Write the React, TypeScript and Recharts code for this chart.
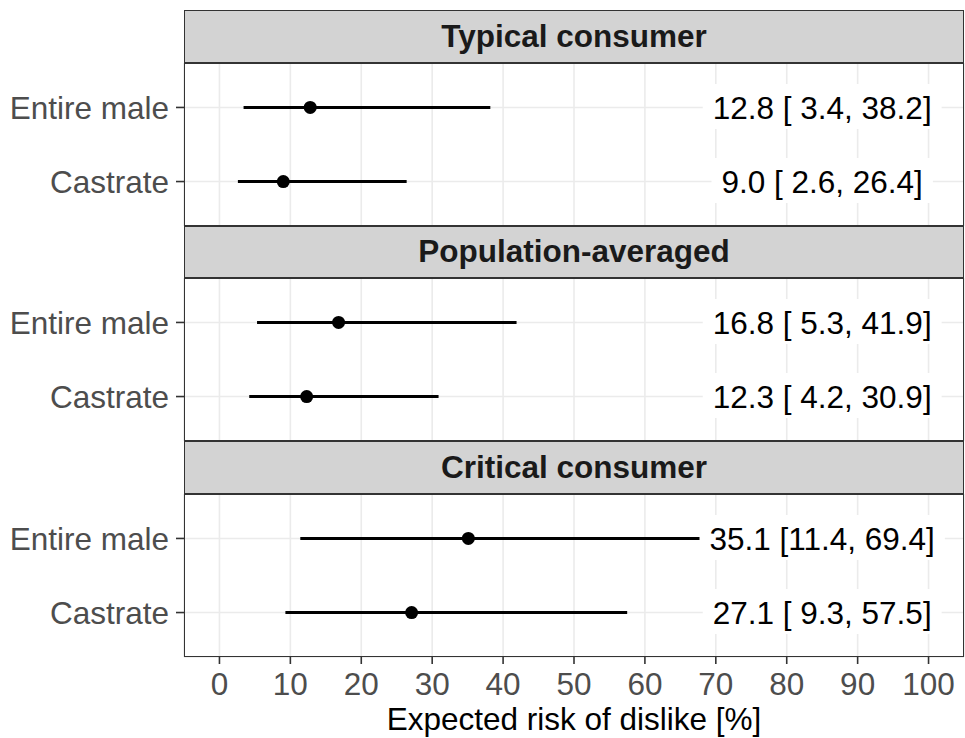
import React from 'react';
import { ScatterChart, Scatter, XAxis, YAxis, CartesianGrid, ErrorBar } from 'recharts';

// ---------- data ----------
const facetTitles = ['Typical consumer', 'Population-averaged', 'Critical consumer'];
const groupNames = ['Castrate', 'Entire male']; // y positions 1, 2

const estEntireMale = [12.8, 16.8, 35.1];
const loEntireMale = [3.4, 5.3, 11.4];
const hiEntireMale = [38.2, 41.9, 69.4];
const labelEntireMale = ['12.8 [ 3.4, 38.2]', '16.8 [ 5.3, 41.9]', '35.1 [11.4, 69.4]'];

const estCastrate = [9.0, 12.3, 27.1];
const loCastrate = [2.6, 4.2, 9.3];
const hiCastrate = [26.4, 30.9, 57.5];
const labelCastrate = ['9.0 [ 2.6, 26.4]', '12.3 [ 4.2, 30.9]', '27.1 [ 9.3, 57.5]'];

const xTicks = [0, 10, 20, 30, 40, 50, 60, 70, 80, 90, 100];
const yTicks = [1, 2];
const xDomain = [-5, 105];
const yDomain = [0.4, 2.6];
const LABEL_X = 85;
const xTitle = 'Expected risk of dislike [%]';

// ---------- layout ----------
const FONT = '"Liberation Sans", Arial, Helvetica, sans-serif';
const W = 965;
const H = 738;
const PLOT_LEFT = 184;
const PLOT_RIGHT_MARGIN = 1;
const PLOT_W = W - PLOT_LEFT - PLOT_RIGHT_MARGIN;
const FACET_TOP = 10;
const FACET_STEP = 215.5;
const STRIP_H = 52.5;
const PANEL_H = 163;
const AXIS_H = 82;
const BORDER = '#333333';
const TEXT_SIZE = 31.5;

let ctx: CanvasRenderingContext2D | null = null;
function measureText(text: string, font: string): number {
  if (!ctx) {
    const c = document.createElement('canvas');
    ctx = c.getContext('2d');
  }
  if (!ctx) return text.length * TEXT_SIZE * 0.5;
  ctx.font = font;
  return ctx.measureText(text).width;
}

const DotShape = (p: any) => <circle cx={p.cx} cy={p.cy} r={6.5} fill="#000" />;

const LabelShape = (p: any) => {
  const label: string = p.payload?.label ?? p.label ?? '';
  const w = measureText(label, `${TEXT_SIZE}px ${FONT}`) + 20;
  const h = 45;
  return (
    <g>
      <rect x={p.cx - w / 2} y={p.cy - h / 2 - 1} width={w} height={h} fill="#ffffff" />
      <text
        x={p.cx}
        y={p.cy + 0.36 * TEXT_SIZE}
        textAnchor="middle"
        fontSize={TEXT_SIZE}
        fontFamily={FONT}
        fill="#000000"
      >
        {label}
      </text>
    </g>
  );
};

function buildFacet(i: number) {
  const points = [
    { x: estCastrate[i], y: 1, err: [estCastrate[i] - loCastrate[i], hiCastrate[i] - estCastrate[i]] },
    { x: estEntireMale[i], y: 2, err: [estEntireMale[i] - loEntireMale[i], hiEntireMale[i] - estEntireMale[i]] },
  ];
  const labels = [
    { x: LABEL_X, y: 1, label: labelCastrate[i] },
    { x: LABEL_X, y: 2, label: labelEntireMale[i] },
  ];
  return { points, labels };
}

const Facet = ({ i }: { i: number }) => {
  const isLast = i === facetTitles.length - 1;
  const { points, labels } = buildFacet(i);
  const facetTop = FACET_TOP + FACET_STEP * i;
  const panelTop = facetTop + STRIP_H;
  const chartH = PANEL_H + (isLast ? AXIS_H : 0);
  return (
    <>
      <div style={{ position: 'absolute', left: 0, top: panelTop, width: W, height: chartH }}>
        <ScatterChart
          width={W}
          height={chartH}
          margin={{ top: 0, right: PLOT_RIGHT_MARGIN, bottom: 0, left: 0 }}
          style={{ fontFamily: FONT }}
        >
          <CartesianGrid stroke="#ebebeb" strokeWidth={1.6} />
          <XAxis
            type="number"
            dataKey="x"
            domain={xDomain}
            ticks={xTicks}
            interval={0}
            allowDataOverflow
            hide={!isLast}
            height={isLast ? AXIS_H : 0}
            axisLine={false}
            tickLine={{ stroke: BORDER, strokeWidth: 1.6 }}
            tickSize={7}
            tickMargin={9}
            tick={{ fill: '#4d4d4d', fontSize: TEXT_SIZE, fontFamily: FONT }}
            label={
              isLast
                ? { value: xTitle, position: 'insideBottom', offset: 9, fill: '#000', fontSize: TEXT_SIZE, fontFamily: FONT }
                : undefined
            }
          />
          <YAxis
            type="number"
            dataKey="y"
            domain={yDomain}
            ticks={yTicks}
            interval={0}
            allowDataOverflow
            width={PLOT_LEFT}
            axisLine={false}
            tickLine={{ stroke: BORDER, strokeWidth: 1.6 }}
            tickSize={8}
            tickMargin={7}
            tickFormatter={(v: number) => groupNames[v - 1]}
            tick={{ fill: '#4d4d4d', fontSize: TEXT_SIZE, fontFamily: FONT }}
          />
          <Scatter data={points} shape={DotShape} isAnimationActive={false}>
            <ErrorBar dataKey="err" direction="x" width={0} stroke="#000" strokeWidth={3} isAnimationActive={false} />
          </Scatter>
          <Scatter data={labels} shape={LabelShape} isAnimationActive={false} />
        </ScatterChart>
      </div>
      <div
        style={{
          position: 'absolute',
          left: PLOT_LEFT,
          top: panelTop,
          width: PLOT_W,
          height: PANEL_H,
          border: `1.6px solid ${BORDER}`,
          boxSizing: 'border-box',
          pointerEvents: 'none',
        }}
      />
      <div
        style={{
          position: 'absolute',
          left: PLOT_LEFT,
          top: facetTop,
          width: PLOT_W,
          height: STRIP_H,
          border: `1.6px solid ${BORDER}`,
          boxSizing: 'border-box',
          background: '#d3d3d3',
          display: 'flex',
          alignItems: 'center',
          justifyContent: 'center',
          fontFamily: FONT,
          fontWeight: 'bold',
          fontSize: TEXT_SIZE,
          color: '#1a1a1a',
          whiteSpace: 'nowrap',
        }}
      >
        {facetTitles[i]}
      </div>
    </>
  );
};

export default function App() {
  return (
    <div
      style={{
        position: 'absolute',
        left: 0,
        top: 0,
        width: W,
        height: H,
        background: '#ffffff',
        overflow: 'hidden',
        fontFamily: FONT,
      }}
    >
      {facetTitles.map((_, i) => (
        <Facet key={i} i={i} />
      ))}
    </div>
  );
}
